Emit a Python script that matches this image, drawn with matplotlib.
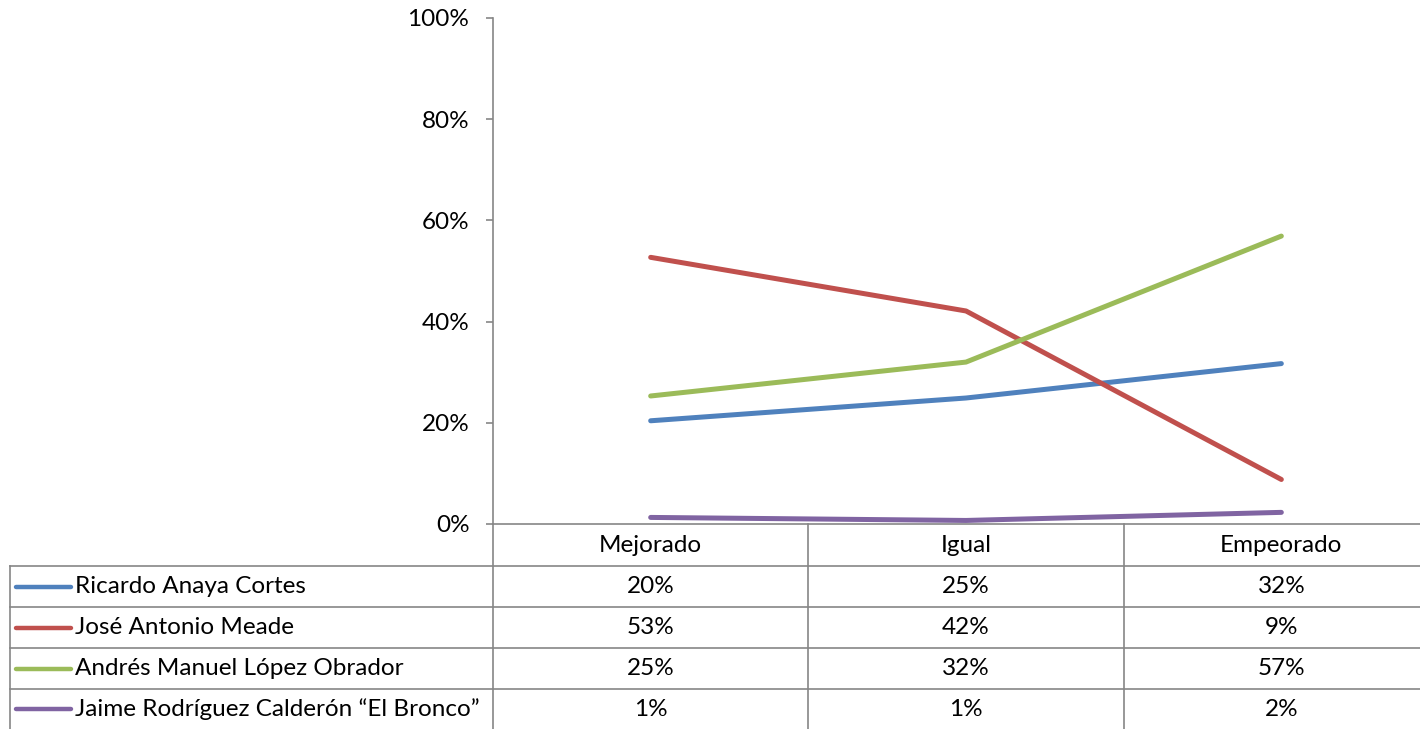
import matplotlib.pyplot as plt
import matplotlib.transforms as mtransforms
from matplotlib.lines import Line2D
from matplotlib.ticker import PercentFormatter

plt.rcParams['font.family'] = ['Lato', 'DejaVu Sans']

categorias = ["Mejorado", "Igual", "Empeorado"]
candidatos = ["Ricardo Anaya Cortes", "José Antonio Meade",
              "Andrés Manuel López Obrador", "Jaime Rodríguez Calderón \u201cEl Bronco\u201d"]
anaya = [20.4, 24.9, 31.7]
meade = [52.7, 42.1, 8.8]
amlo = [25.3, 32.0, 56.9]
bronco = [1.3, 0.7, 2.3]
etiquetas = [["20%", "25%", "32%"],
             ["53%", "42%", "9%"],
             ["25%", "32%", "57%"],
             ["1%", "1%", "2%"]]
colores = ["#4F81BD", "#C0504D", "#9BBB59", "#8064A2"]
gris = "#868686"
fs = 17.5

W, H = 1420, 729
fig = plt.figure(figsize=(W / 100, H / 100), dpi=100)

def fx(x):
    return x / W

def fy(y):
    return 1 - y / H

# area del grafico (se sale un poco por la derecha, como en el original)
ax = fig.add_axes([fx(493), fy(524), fx(1439) - fx(493), fy(18) - fy(524)])
series = [anaya, meade, amlo, bronco]
x = list(range(len(categorias)))
for s, c in zip(series, colores):
    ax.plot(x, s, color=c, lw=3.6, solid_capstyle='round', solid_joinstyle='round', zorder=3)
ax.set_xlim(-0.5, 2.5)
ax.set_ylim(0, 100)
ax.set_yticks([0, 20, 40, 60, 80, 100])
ax.yaxis.set_major_formatter(PercentFormatter(decimals=0))
ax.set_xticks([])
for sp in ["top", "right"]:
    ax.spines[sp].set_visible(False)
ax.spines["left"].set_color(gris)
ax.spines["bottom"].set_color(gris)
ax.spines["left"].set_linewidth(1.2)
ax.spines["bottom"].set_linewidth(1.2)
ax.tick_params(axis='y', colors=gris, length=5, width=1.2, labelsize=fs, labelcolor='black', pad=12)

# tabla de datos
tr = mtransforms.blended_transform_factory(ax.transData, fig.transFigure)
filas = [524, 566, 607, 648, 689, 729]

def hline(x0, x1, y):
    fig.add_artist(Line2D([fx(x0), fx(x1)], [fy(y), fy(y)], color=gris, lw=1.2))

def vline(x, y0, y1):
    fig.add_artist(Line2D([fx(x), fx(x)], [fy(y0), fy(y1)], color=gris, lw=1.2))

for y in filas[1:-1]:
    hline(10, W, y)
vline(10, 566, 729)
vline(493, 524, 729)
for b in [0.5, 1.5]:
    fig.add_artist(Line2D([b, b], [fy(524), fy(729)], color=gris, lw=1.2, transform=tr))

yc = (filas[0] + filas[1]) / 2
for i, cat in enumerate(categorias):
    fig.text(i, fy(yc), cat, transform=tr, ha='center', va='center', fontsize=fs)

for r, (nombre, c) in enumerate(zip(candidatos, colores)):
    yc = (filas[r + 1] + filas[r + 2]) / 2
    fig.add_artist(Line2D([fx(16), fx(71)], [fy(yc), fy(yc)], color=c, lw=3.2, solid_capstyle='round'))
    fig.text(fx(75), fy(yc), nombre, ha='left', va='center', fontsize=fs)
    for i, et in enumerate(etiquetas[r]):
        fig.text(i, fy(yc), et, transform=tr, ha='center', va='center', fontsize=fs)

fig.savefig("out.png", dpi=100)
